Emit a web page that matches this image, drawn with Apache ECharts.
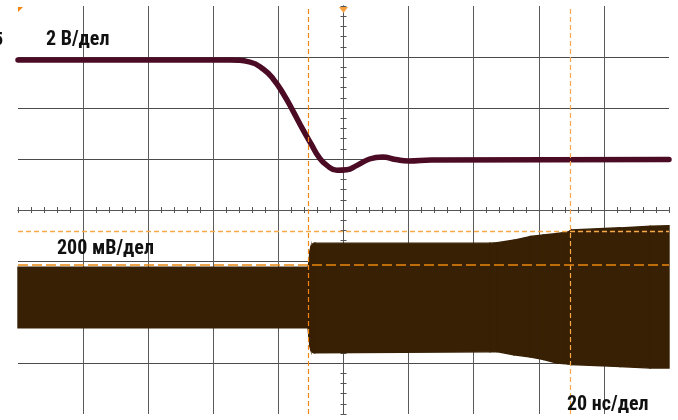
<!DOCTYPE html>
<html>
<head>
<meta charset="utf-8">
<script src="https://cdn.jsdelivr.net/npm/echarts@6/dist/echarts.min.js"></script>
<style>html,body{margin:0;padding:0;background:#fff}#c{width:678px;height:420px}</style>
</head>
<body>
<div id="c"></div>
<script>
// Time axis: 20 ns/div, trigger at 0; vertical axis in screen divisions
var timeTicks = [-100, -80, -60, -40, -20, 0, 20, 40, 60, 80, 100];
var divTicks = [-4, -3, -2, -1, 0, 1, 2, 3, 4];

// Channel 1 (2 V/div) trace, in divisions
var ch1Time = [-100, -34.9, -28.7, -24.6, -21.6, -18.5, -15.5, -12.5, -10.0, -7.5, -5.0, -2.0, 1.0, 4.0, 8.0, 12.0, 16.0, 20.0, 27.0, 100];
var ch1Value = [2.94, 2.94, 2.90, 2.76, 2.57, 2.28, 1.94, 1.58, 1.30, 1.03, 0.87, 0.78, 0.79, 0.87, 1.00, 1.04, 0.99, 0.96, 0.98, 0.99];

// Channel 2 (200 mV/div) RF burst envelope, in divisions
var ch2Time  = [-100, -10.9, -10.6, -10.3, -10.0, -9.4, -8.8, 45.0, 47.2, 52.4, 57.3, 61.3, 65.6, 69.0, 69.6, 70.0, 84.9, 94.2, 100];
var ch2Upper = [-1.12, -1.12, -1.02, -0.80, -0.72, -0.67, -0.65, -0.65, -0.64, -0.59, -0.52, -0.49, -0.46, -0.43, -0.41, -0.39, -0.35, -0.32, -0.31];
var ch2Lower = [-2.31, -2.31, -2.50, -2.68, -2.75, -2.79, -2.80, -2.78, -2.78, -2.84, -2.88, -2.93, -3.00, -3.02, -3.02, -3.03, -3.07, -3.10, -3.10];

// Cursors
var timeCursors = [-10.9, 69.6];
var levelCursors = [-0.41, -1.08];

// Labels
var labelCh1 = '2 В/дел';
var labelCh2 = '200 мВ/дел';
var labelTime = '20 нс/дел';

var chart = echarts.init(document.getElementById('c'), null, {renderer: 'canvas'});

function zip(a, b) { return a.map(function (v, i) { return [v, b[i]]; }); }

// envelope segments: [t0, up0, lo0, t1, up1, lo1]
var ch2Segments = [];
for (var i = 0; i < ch2Time.length - 1; i++) {
  ch2Segments.push([ch2Time[i], ch2Upper[i], ch2Lower[i], ch2Time[i + 1], ch2Upper[i + 1], ch2Lower[i + 1]]);
}

var gridCol = '#5a5a5a';
var FONT = '"Liberation Sans Narrow", "Roboto Condensed", Roboto, sans-serif';

function xAx(pos, withSplit) {
  return {
    type: 'value', min: timeTicks[0], max: timeTicks[timeTicks.length - 1], interval: 20,
    position: pos,
    axisLine: {show: true, onZero: true, onZeroAxisIndex: 0, lineStyle: {color: '#555', width: 1}},
    axisTick: {show: true, inside: true, length: 3, lineStyle: {color: '#555'}},
    minorTick: {show: true, splitNumber: 5, length: 3, lineStyle: {color: '#555'}},
    axisLabel: {show: false},
    splitLine: {show: withSplit, showMinLine: false, showMaxLine: false, lineStyle: {color: gridCol, width: 1}},
    minorSplitLine: {show: false}
  };
}
function yAx(pos, withSplit) {
  return {
    type: 'value', min: divTicks[0], max: divTicks[divTicks.length - 1], interval: 1,
    position: pos,
    axisLine: {show: true, onZero: true, onZeroAxisIndex: 0, lineStyle: {color: '#555', width: 1}},
    axisTick: {show: true, inside: true, length: 3, lineStyle: {color: '#555'}},
    minorTick: {show: true, splitNumber: 5, length: 3, lineStyle: {color: '#555'}},
    axisLabel: {show: false},
    splitLine: {show: withSplit, showMinLine: false, showMaxLine: false, lineStyle: {color: '#4a4a4a', width: 1}},
    minorSplitLine: {show: false}
  };
}

var ch2Col = '#382004';
var ch1Col = '#4c0b24';

chart.setOption({
  animation: false,
  backgroundColor: '#ffffff',
  grid: {left: 18, right: 9, top: 6, bottom: 6, outerBoundsMode: 'none', containLabel: false},
  xAxis: [xAx('bottom', true), xAx('top', false)],
  yAxis: [yAx('left', true), yAx('right', false)],
  series: [
    {
      name: 'ch2', type: 'custom', data: ch2Segments, silent: true, z: 3,
      encode: {x: [0, 3], y: [1, 2, 4, 5]},
      renderItem: function (params, api) {
        var a = api.coord([api.value(0), api.value(1)]);
        var b = api.coord([api.value(3), api.value(4)]);
        var c = api.coord([api.value(3), api.value(5)]);
        var d = api.coord([api.value(0), api.value(2)]);
        return {
          type: 'polygon',
          shape: {points: [a, b, c, d]},
          style: {fill: ch2Col, stroke: ch2Col, lineWidth: 1.4}
        };
      }
    },
    {
      name: 'ch1', type: 'line', data: zip(ch1Time, ch1Value),
      symbol: 'none', silent: true, z: 4, smooth: 0.5,
      lineStyle: {color: ch1Col, width: 5.5, cap: 'round', join: 'round'}
    },
    {
      name: 'cursors', type: 'line', data: [], z: 6, silent: true,
      markLine: {
        silent: true, symbol: ['none', 'none'], animation: false,
        label: {show: false},
        data: [
          {xAxis: timeCursors[0], lineStyle: {color: '#f5860f', type: [5, 3], width: 1.2}},
          {xAxis: timeCursors[1], lineStyle: {color: '#f9a848', type: [5, 3], width: 1.2}},
          {yAxis: levelCursors[0], lineStyle: {color: '#f9a848', type: [5, 3], width: 1.3}},
          {yAxis: levelCursors[1], lineStyle: {color: '#e9860e', type: [10, 4], width: 1.5}}
        ]
      },
      markPoint: {
        silent: true, animation: false,
        symbol: 'triangle', symbolRotate: 180, symbolSize: [9, 6], symbolOffset: [0, 4],
        itemStyle: {color: '#f7a040'},
        label: {show: false},
        data: [{coord: [0, divTicks[divTicks.length - 1]]}]
      }
    }
  ],
  graphic: [
    {type: 'polygon', shape: {points: [[18, 7], [23, 7], [18, 12]]}, style: {fill: '#f5860f'}, z: 10},
    {type: 'text', left: -6, top: 31, style: {text: '5', font: 'bold 18px ' + FONT, fill: '#111'}, z: 10},
    {type: 'text', x: 46, y: 40, style: {text: labelCh1, font: 'bold 20px ' + FONT, fill: '#111', verticalAlign: 'middle'}, z: 10},
    {type: 'text', x: 57, y: 249, style: {text: labelCh2, font: 'bold 20px ' + FONT, fill: '#111', verticalAlign: 'middle'}, z: 10},
    {type: 'text', x: 567, y: 405, style: {text: labelTime, font: 'bold 20px ' + FONT, fill: '#111', verticalAlign: 'middle'}, z: 10}
  ]
});
</script>
</body>
</html>
